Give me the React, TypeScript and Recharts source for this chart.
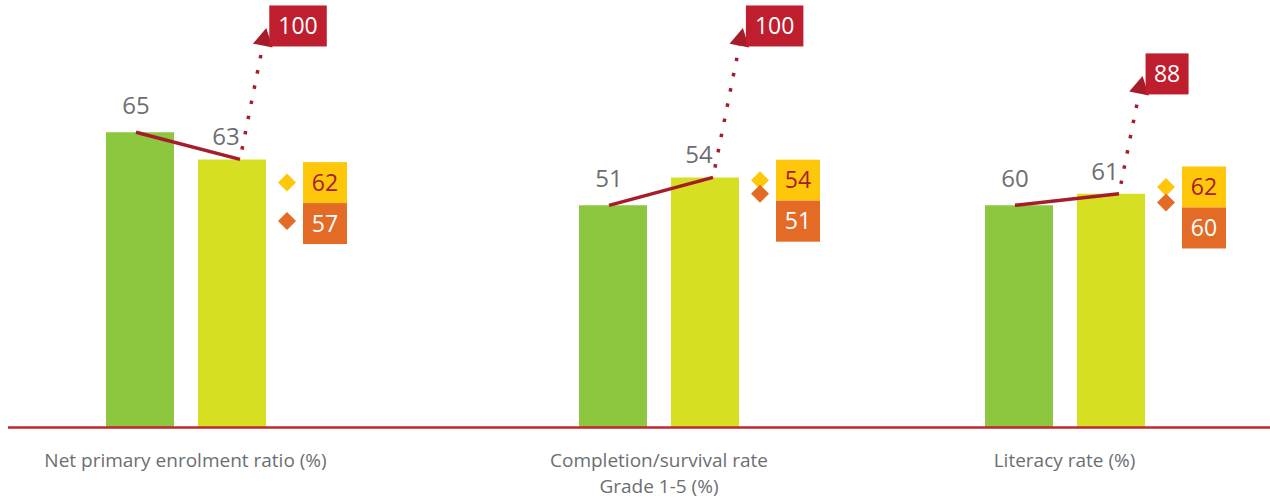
import { BarChart, Bar, XAxis, YAxis, LabelList } from "recharts";

const groups = [
  "Net primary enrolment ratio (%)",
  "Completion/survival rate\nGrade 1-5 (%)",
  "Literacy rate (%)",
];

// numbers printed on the chart
const firstValue = [65, 51, 60];
const secondValue = [63, 54, 61];
const targetValue = [100, 100, 88];
const yellowMarkValue = [62, 54, 62];
const orangeMarkValue = [57, 51, 60];

// heights as drawn in the artwork (the original is not to scale with its numbers)
const firstBar = [73.9, 55.6, 55.6];
const secondBar = [67.1, 62.6, 58.5];
const yellowMarkLevel = [61.3, 61.9, 60.2];
const orangeMarkLevel = [51.7, 58.5, 56.3];

const GREEN = "#8dc63f";
const LIME = "#d7df23";
const RED = "#be1e2d";
const DARK_RED = "#a71c2a";
const AXIS_RED = "#c1272d";
const YELLOW = "#ffc709";
const ORANGE = "#e36b26";
const GRAY = "#6d6e71";
const FONT = "'Open Sans', sans-serif";

const BAR = 68;
const GAP = 24;

// chart widths so the three groups sit where they do in the original
const chartWidth = [363, 592, 315];
const leftMargin = [8, 0, 0];
const rightPad = [0, 0, 96];

const rows = groups.map((name, i) => ({
  name,
  first: firstBar[i],
  second: secondBar[i],
}));

function GroupTick({ x, y, payload }: any) {
  const lines = String(payload.value).split("\n");
  return (
    <g>
      {lines.map((t, i) => (
        <text
          key={i}
          x={x}
          y={y + 39 + i * 26.7}
          textAnchor="middle"
          fill={GRAY}
          fontSize={19}
          fontFamily={FONT}
        >
          {t}
        </text>
      ))}
    </g>
  );
}

function ValueBox({ x, cy, w, fill, color, text }: any) {
  return (
    <g>
      <rect x={x} y={cy - 20.5} width={w} height={41} fill={fill} />
      <text
        x={x + w / 2}
        y={cy + 8}
        textAnchor="middle"
        fill={color}
        fontSize={23}
        fontFamily={FONT}
      >
        {text}
      </text>
    </g>
  );
}

const groupOverlay = (g: number) => (props: any) => {
  const vb = props.viewBox && props.viewBox.width ? props.viewBox : props;
  const { x, y, width, height } = vb;
  const base = y + height;
  const k = height / secondBar[g];
  const cy = x + width / 2;
  const cg = cy - width - GAP;
  const gTop = base - firstBar[g] * k;

  // connector between the two bar tops
  const sx = cy + 8;
  const sy = y;
  // dotted arrow up to the target
  const ty = base - targetValue[g] * k;
  const tx = sx + 0.2 * (sy - ty);
  const len = Math.hypot(tx - sx, ty - sy);
  const ux = (tx - sx) / len;
  const uy = (ty - sy) / len;
  const bx = tx - ux * 18;
  const by = ty - uy * 18;
  const head = `${tx},${ty} ${bx - uy * 10},${by + ux * 10} ${bx + uy * 10},${by - ux * 10}`;
  const tText = String(targetValue[g]);
  const tw = 14 + tText.length * 14.5;

  const right = x + width;
  const dx = right + 21;
  const yMark = base - yellowMarkLevel[g] * k;
  const oMark = base - orangeMarkLevel[g] * k;
  const diamond = (cx: number, cyy: number) =>
    `${cx},${cyy - 9} ${cx + 9},${cyy} ${cx},${cyy + 9} ${cx - 9},${cyy}`;

  return (
    <g>
      <text x={cg - 4} y={gTop - 18} textAnchor="middle" fill={GRAY} fontSize={24} fontFamily={FONT}>
        {firstValue[g]}
      </text>
      <text x={cy - 6} y={y - 14} textAnchor="middle" fill={GRAY} fontSize={24} fontFamily={FONT}>
        {secondValue[g]}
      </text>
      <line x1={cg - 4} y1={gTop} x2={sx} y2={sy} stroke={DARK_RED} strokeWidth={3.5} />
      <line
        x1={sx}
        y1={sy}
        x2={bx}
        y2={by}
        stroke={DARK_RED}
        strokeWidth={3.5}
        strokeDasharray="3.5 12"
        strokeDashoffset={-10}
      />
      <polygon points={head} fill={DARK_RED} />
      <ValueBox x={tx + 3} cy={ty - 2} w={tw} fill={RED} color="#fff" text={tText} />

      <polygon points={diamond(dx, yMark)} fill={YELLOW} />
      <polygon points={diamond(dx, oMark)} fill={ORANGE} />
      <ValueBox x={right + 37} cy={yMark} w={44} fill={YELLOW} color={DARK_RED} text={yellowMarkValue[g]} />
      <ValueBox x={right + 37} cy={yMark + 41} w={44} fill={ORANGE} color="#fff" text={orangeMarkValue[g]} />
    </g>
  );
};

function GroupChart({ g }: { g: number }) {
  return (
    <BarChart
      width={chartWidth[g]}
      height={500}
      data={[rows[g]]}
      margin={{ top: 0, right: 0, bottom: 0, left: leftMargin[g] }}
      barGap={GAP}
    >
      <XAxis
        dataKey="name"
        height={72.5}
        tick={<GroupTick />}
        tickLine={false}
        tickSize={0}
        tickMargin={0}
        interval={0}
        padding={{ left: 0, right: rightPad[g] }}
        axisLine={{ stroke: AXIS_RED, strokeWidth: 2.5 }}
      />
      <YAxis hide domain={[0, 107]} />
      <Bar dataKey="first" fill={GREEN} barSize={BAR} isAnimationActive={false} />
      <Bar dataKey="second" fill={LIME} barSize={BAR} isAnimationActive={false}>
        <LabelList dataKey="second" content={groupOverlay(g)} />
      </Bar>
    </BarChart>
  );
}

export default function App() {
  return (
    <div
      style={{
        position: "absolute",
        left: 0,
        top: 0,
        width: 1270,
        height: 500,
        display: "flex",
        background: "#fff",
      }}
    >
      {groups.map((_, g) => (
        <GroupChart key={g} g={g} />
      ))}
    </div>
  );
}
